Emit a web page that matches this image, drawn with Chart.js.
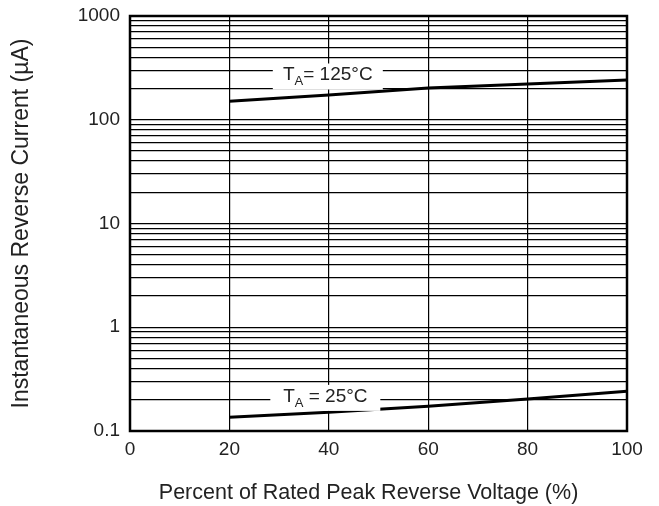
<!DOCTYPE html>
<html>
<head>
<meta charset="utf-8">
<script src="https://cdn.jsdelivr.net/npm/chart.js@4"></script>
<style>
  html, body { margin: 0; padding: 0; background: #fff; }
  #wrap { width: 659px; height: 506px; }
</style>
</head>
<body>
<div id="wrap"><canvas id="chart" width="659" height="506"></canvas></div>
<script>
// percent of rated peak reverse voltage
const voltagePct = [20, 40, 60, 80, 100];
// reverse current (uA)
const current125 = [151, 173, 202, 221, 241];
const current25 = [0.136, 0.152, 0.173, 0.203, 0.242];

const xTicks = [0, 20, 40, 60, 80, 100];
const decades = [0.1, 1, 10, 100, 1000];
const decadeLabels = ['0.1', '1', '10', '100', '1000'];
const minorSteps = [1, 2, 3, 4, 5, 6, 7, 8, 9];
const xTitle = 'Percent of Rated Peak Reverse Voltage (%)';

// curve labels: anchor in data units, text split for the subscript
const curveLabels = [
    { x: 39.8, y: 273, head: 'T', sub: 'A', tail: '= 125\u00B0C' },
    { x: 39.3, y: 0.218, head: 'T', sub: 'A', tail: ' = 25\u00B0C' }
];

let yGrid = [];
for (let d of decades) {
    if (d === 1000) { yGrid.push(d); break; }
    for (let m of minorSteps) yGrid.push(Number((d * m).toPrecision(3)));
}

const font = 'Liberation Sans, Arial, sans-serif';

const framePlugin = {
    id: 'frame',
    afterDraw(c) {
        const a = c.chartArea, ctx = c.ctx;
        ctx.save();
        ctx.strokeStyle = '#000';
        ctx.lineWidth = 2.5;
        ctx.strokeRect(a.left, a.top, a.right - a.left, a.bottom - a.top);
        // x axis title, sits a little left of the plot centre in the original
        ctx.fillStyle = '#222';
        ctx.font = '21.5px ' + font;
        ctx.textAlign = 'center';
        ctx.textBaseline = 'middle';
        ctx.fillText(xTitle, c.scales.x.getPixelForValue(48), a.bottom + 62);
        ctx.restore();
    }
};

const labelPlugin = {
    id: 'curveLabels',
    afterDatasetsDraw(c) {
        const ctx = c.ctx, xs = c.scales.x, ys = c.scales.y;
        ctx.save();
        for (let l of curveLabels) {
            const px = xs.getPixelForValue(l.x), py = ys.getPixelForValue(l.y);
            ctx.fillStyle = '#fff';
            ctx.fillRect(px - 55, py - 11, 110, 26);
            ctx.font = '19px ' + font;
            const w1 = ctx.measureText(l.head).width;
            const w3 = ctx.measureText(l.tail).width;
            ctx.font = '13px ' + font;
            const w2 = ctx.measureText(l.sub).width;
            let x = px - (w1 + w2 + w3) / 2;
            ctx.fillStyle = '#222';
            ctx.textBaseline = 'alphabetic';
            ctx.textAlign = 'left';
            ctx.font = '19px ' + font;
            ctx.fillText(l.head, x, py + 6);
            x += w1;
            ctx.font = '13px ' + font;
            ctx.fillText(l.sub, x, py + 11);
            x += w2;
            ctx.font = '19px ' + font;
            ctx.fillText(l.tail, x, py + 6);
        }
        ctx.restore();
    }
};

new Chart(document.getElementById('chart'), {
    type: 'line',
    data: {
        labels: voltagePct,
        datasets: [{
            label: 'TA = 125C',
            data: voltagePct.map((v, i) => ({ x: v, y: current125[i] })),
            borderColor: '#000',
            borderWidth: 3,
            pointRadius: 0,
            tension: 0
        }, {
            label: 'TA = 25C',
            data: voltagePct.map((v, i) => ({ x: v, y: current25[i] })),
            borderColor: '#000',
            borderWidth: 3,
            pointRadius: 0,
            tension: 0
        }]
    },
    options: {
        responsive: false,
        animation: false,
        layout: { padding: { top: 16, right: 32, left: 0, bottom: 0 } },
        plugins: { legend: { display: false }, tooltip: { enabled: false } },
        scales: {
            x: {
                type: 'linear',
                min: 0, max: 100,
                afterFit(s) { s.height = 75; s.paddingLeft = 0; s.paddingRight = 0; },
                afterBuildTicks(s) { s.ticks = xTicks.map(v => ({ value: v })); },
                grid: { color: '#000', lineWidth: 1.2, drawTicks: false },
                border: { display: false },
                ticks: { color: '#222', padding: 7, font: { family: font, size: 19 } }
            },
            y: {
                type: 'logarithmic',
                min: 0.1, max: 1000,
                afterFit(s) { s.width = 130; s.paddingTop = 0; s.paddingBottom = 0; },
                afterBuildTicks(s) { s.ticks = yGrid.map(v => ({ value: v })); },
                grid: { color: '#000', lineWidth: 1.2, drawTicks: false },
                border: { display: false },
                ticks: {
                    color: '#222', padding: 10, autoSkip: false,
                    font: { family: font, size: 19 },
                    callback(v) {
                        const i = decades.indexOf(v);
                        return i >= 0 ? decadeLabels[i] : '';
                    }
                },
                title: {
                    display: true,
                    text: 'Instantaneous Reverse Current (\u00B5A)',
                    color: '#222',
                    font: { family: font, size: 23 },
                    padding: { top: 8, bottom: 0 }
                }
            }
        }
    },
    plugins: [framePlugin, labelPlugin]
});
</script>
</body>
</html>
